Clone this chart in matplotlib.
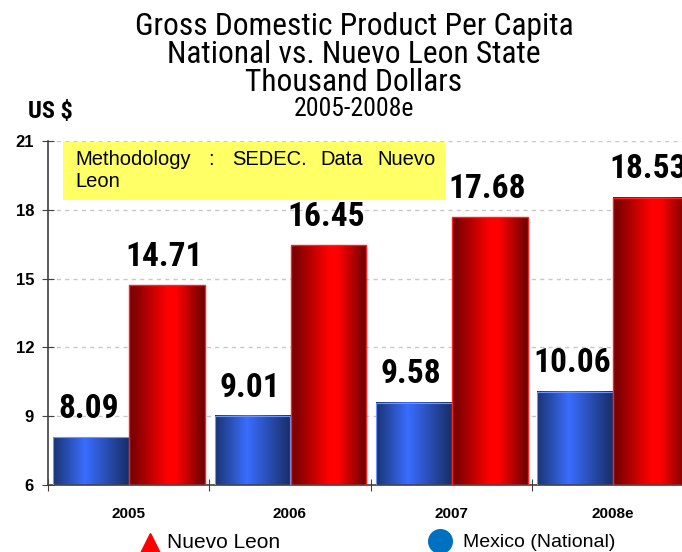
import matplotlib
matplotlib.use("Agg")
import matplotlib.pyplot as plt
import numpy as np
from matplotlib.colors import LinearSegmentedColormap
from matplotlib.lines import Line2D
from matplotlib.patches import Rectangle
from matplotlib import font_manager

years = ["2005", "2006", "2007", "2008e"]
mexico = [8.09, 9.01, 9.58, 10.06]
nuevo_leon = [14.71, 16.45, 17.68, 18.53]
yticks = [6, 9, 12, 15, 18, 21]

names = sorted({f.name for f in font_manager.fontManager.ttflist})
NARROW = None
NSTRETCH = "normal"
for cand in ["Liberation Sans Narrow", "Arial Narrow", "Roboto Condensed", "Open Sans Condensed"]:
    if cand in names:
        NARROW = cand
        break
if NARROW is None:
    cond = [f for f in font_manager.fontManager.ttflist
            if f.name == "DejaVu Sans" and str(f.stretch) in ("condensed", "semi-condensed", "600", "500")]
    NARROW = "DejaVu Sans"
    NSTRETCH = "condensed" if cond else "normal"
REG = "Liberation Sans"

fig = plt.figure(figsize=(6.82, 5.52), dpi=100)
ax = fig.add_axes([48/682, 67/552, 645/682, 344/552])
ax.set_xlim(-0.5, 3.5)
ax.set_ylim(6, 21)

blue_cmap = LinearSegmentedColormap.from_list("b", [(0, "#1a3472"), (0.42, "#3a6dff"), (1, "#182e66")])
red_cmap = LinearSegmentedColormap.from_list("r", [(0, "#6e0000"), (0.5, "#ff0000"), (0.62, "#ff0000"), (1, "#680000")])
grad = np.linspace(0, 1, 256).reshape(1, -1)

x = np.arange(len(years))
w = 0.47
bb = ax.bar(x - 0.232, np.array(mexico) - 6, width=w, bottom=6, facecolor="none",
            edgecolor="#6f95ff", linewidth=0.8, zorder=3)
br = ax.bar(x + 0.240, np.array(nuevo_leon) - 6, width=w, bottom=6, facecolor="none",
            edgecolor="#ff2020", linewidth=1.0, zorder=3)
for bars, cmap in ((bb, blue_cmap), (br, red_cmap)):
    for p in bars:
        x0, y0, ww, hh = p.get_x(), p.get_y(), p.get_width(), p.get_height()
        ax.imshow(grad, cmap=cmap, extent=(x0, x0 + ww, y0, y0 + hh), aspect="auto",
                  zorder=2, interpolation="bicubic")
ax.set_xlim(-0.5, 3.5)
ax.set_ylim(6, 21)

for bars, vals in ((bb, mexico), (br, nuevo_leon)):
    for p, v in zip(bars, vals):
        ax.annotate(f"{v:.2f}", (p.get_x() + p.get_width()/2, p.get_y() + p.get_height()),
                    xytext=(-2, 14), textcoords="offset points", ha="center", va="baseline",
                    fontsize=24, fontweight="bold", family=NARROW, fontstretch=NSTRETCH,
                    color="black", zorder=5, annotation_clip=False)

ax.set_yticks(yticks)
ax.set_yticklabels([str(t) for t in yticks], fontsize=12, fontweight="bold", family=REG)
ax.yaxis.grid(True, linestyle=(0, (3, 3)), color="#c8c8c8", linewidth=1)
ax.set_axisbelow(True)
ax.set_xticks([-0.5, 0.5, 1.5, 2.5, 3.5])
ax.set_xticklabels([])
ax.set_xticks(x, minor=True)
ax.set_xticklabels(years, minor=True, fontsize=11, fontweight="bold", family=REG)
ax.tick_params(axis="x", which="minor", length=0, pad=16)
ax.tick_params(axis="x", which="major", direction="inout", length=8, color="#404040")
ax.tick_params(axis="y", direction="inout", length=8, color="#404040", pad=6)
for s in ("top", "right"):
    ax.spines[s].set_visible(False)
for s in ("left", "bottom"):
    ax.spines[s].set_color("#404040")
    ax.spines[s].set_linewidth(1.2)

# annotation box
fig.add_artist(Rectangle((63/682, 1 - 200/552), (445-63)/682, 58/552, transform=fig.transFigure,
                         facecolor="#ffff66", edgecolor="none", zorder=4))
words = [("Methodology", 75), (":", 208), ("SEDEC.", 232), ("Data", 320), ("Nuevo", 377)]
for wd, px in words:
    fig.text(px/682, 1 - 165/552, wd, fontsize=14.5, family=REG, ha="left", va="baseline", zorder=5)
fig.text(75/682, 1 - 187/552, "Leon", fontsize=14.5, family=REG, ha="left", va="baseline", zorder=5)

# titles
cx = 354/682
tkw = dict(family=NARROW, fontstretch=NSTRETCH, ha="center", va="baseline")
fig.text(cx, 1 - 35/552, "Gross Domestic Product Per Capita", fontsize=22.7, **tkw)
fig.text(cx, 1 - 63/552, "National vs. Nuevo Leon State", fontsize=22.7, **tkw)
fig.text(cx, 1 - 91/552, "Thousand Dollars", fontsize=22.7, **tkw)
fig.text(cx, 1 - 116/552, "2005-2008e", fontsize=18.5, **tkw)
fig.text(28/682, 1 - 118/552, "US $", fontsize=17.5, fontweight="bold", family=NARROW,
         fontstretch=NSTRETCH, ha="left", va="baseline")

# legend
fig.add_artist(Line2D([150/682], [1 - 543/552], marker="^", markersize=15, color="#ff0000",
                      linestyle="none", transform=fig.transFigure))
fig.text(167/682, 1 - 548/552, "Nuevo Leon", fontsize=15, family=REG, ha="left", va="baseline")
fig.add_artist(Line2D([440/682], [1 - 541/552], marker="o", markersize=17, color="#0070c0",
                      linestyle="none", transform=fig.transFigure))
fig.text(463/682, 1 - 547/552, "Mexico (National)", fontsize=14, family=REG, ha="left", va="baseline")

fig.savefig("out.png", dpi=100)
